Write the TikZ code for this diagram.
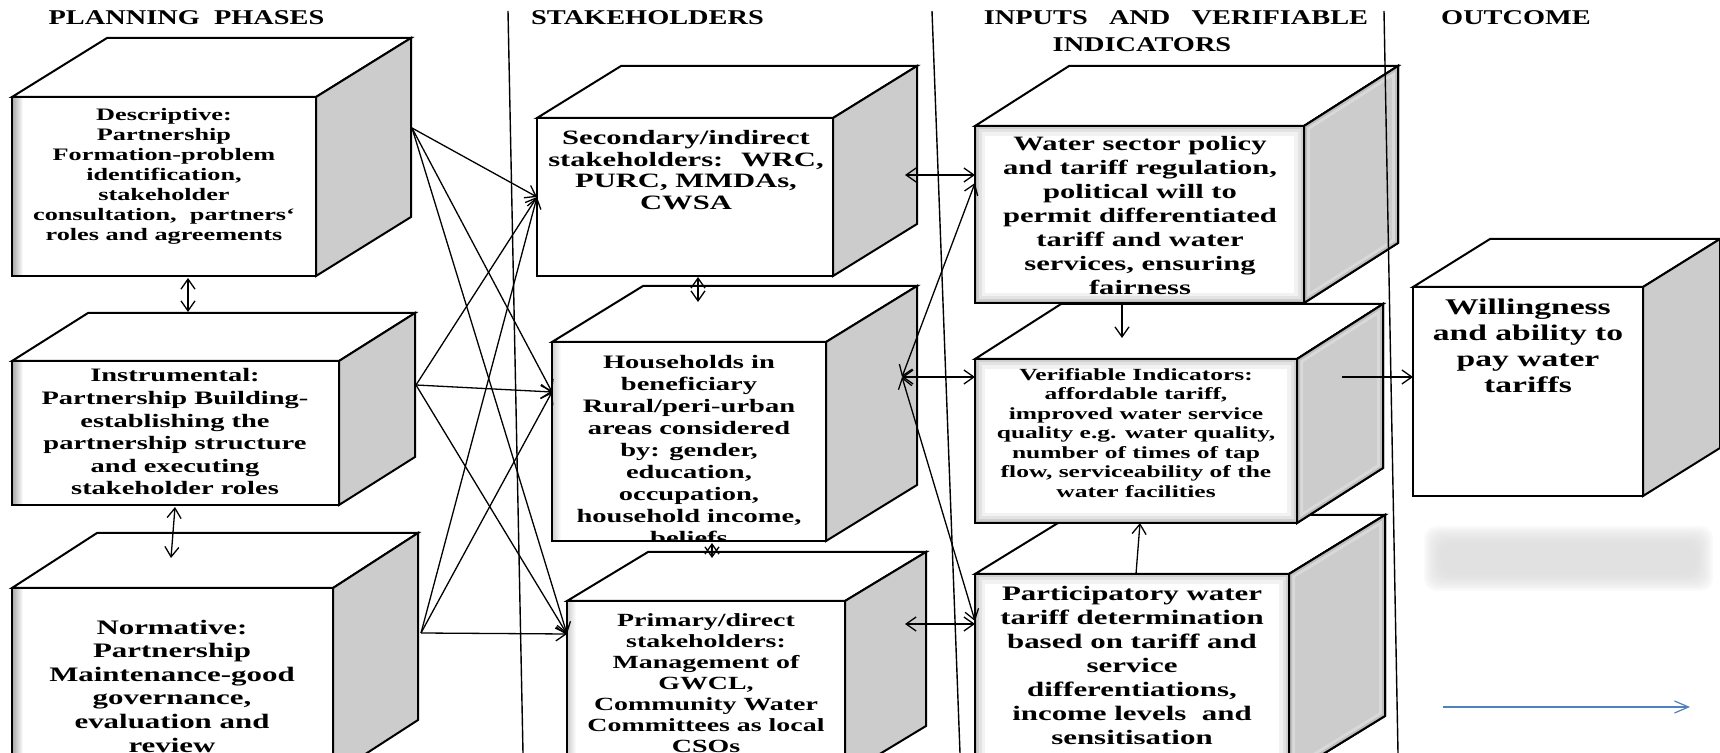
\documentclass[tikz,border=0pt]{standalone}
\usepackage{fontspec}
\setmainfont{Liberation Serif}[FakeStretch=1.5]
\newfontfamily\hdrfont{Liberation Serif}[FakeStretch=1.35]
\usetikzlibrary{arrows.meta,fit}
\definecolor{sidegray}{RGB}{204,204,204}
\definecolor{blueline}{RGB}{79,129,189}
\tikzset{
  boxline/.style={draw=black, line width=1pt, line join=miter},
  txt/.style 2 args={align=center, inner sep=0pt, font=\fontsize{#1}{#2}\selectfont\bfseries},
  hdr/.style={inner sep=0pt, anchor=base, font=\hdrfont\fontsize{10.5}{14}\selectfont\bfseries},
  conn/.style={line width=0.65pt, -{Straight Barb[length=5pt,width=7pt]}},
  dconn/.style={line width=0.65pt, {Straight Barb[length=5pt,width=7pt]}-{Straight Barb[length=5pt,width=7pt]}},
  sepline/.style={line width=0.7pt},
}
% #1 name, #2 x1, #3 y1, #4 x2, #5 y2, #6 dx, #7 dy, #8 shading type
\newcommand\drawcube[8]{%
  \filldraw[boxline, fill=white] (#2,#3) -- ({#2+#6},{#3-#7}) -- ({#4+#6},{#3-#7}) -- (#4,#3) -- cycle;
  \filldraw[boxline, fill=sidegray] (#4,#3) -- ({#4+#6},{#3-#7}) -- ({#4+#6},{#5-#7}) -- (#4,#5) -- cycle;
  \ifnum#8=3
    \begin{scope}
      \clip (#4,#3) -- ({#4+#6},{#3-#7}) -- ({#4+#6},{#5-#7}) -- (#4,#5) -- cycle;
      \draw[gray!30, line width=6pt] (#4,#3) -- ({#4+#6},{#3-#7}) -- ({#4+#6},{#5-#7}) -- (#4,#5) -- cycle;
      \draw[gray!50, line width=3pt] (#4,#3) -- ({#4+#6},{#3-#7}) -- ({#4+#6},{#5-#7}) -- (#4,#5) -- cycle;
    \end{scope}
    \draw[boxline] (#4,#3) -- ({#4+#6},{#3-#7}) -- ({#4+#6},{#5-#7}) -- (#4,#5) -- cycle;
  \fi
  \node[fit={(#2,#3) (#4,#5)}, inner sep=0pt, fill=white] (#1) {};
  \ifnum#8=1 \shade[left color=gray!70, right color=white] (#2,#3) rectangle ({#2+11},#5); \fi
  \ifnum#8=2 \shade[left color=gray!40, right color=white] (#2,#3) rectangle ({#2+9},#5); \fi
  \ifnum#8=3
    \begin{scope}
      \clip (#2,#3) rectangle (#4,#5);
      \draw[gray!10, line width=10pt] (#2,#3) rectangle (#4,#5);
      \draw[gray!22, line width=6.5pt] (#2,#3) rectangle (#4,#5);
      \draw[gray!38, line width=3.5pt] (#2,#3) rectangle (#4,#5);
      \draw[gray!55, line width=1.5pt] (#2,#3) rectangle (#4,#5);
    \end{scope}
  \fi
  \draw[boxline] (#1.north west) rectangle (#1.south east);
}
\begin{document}
\begin{tikzpicture}[x=0.5pt,y=-0.5pt]
\useasboundingbox (0,0) rectangle (1720,753);
\fill[white] (0,0) rectangle (1720,753);
\clip (0,0) rectangle (1720,753);

% headers
\node[hdr] (h1) at (186.5,25) {PLANNING\ \ PHASES};
\node[hdr] (h2) at (647.5,25) {STAKEHOLDERS};
\node[hdr] (h3) at (1176,25) {INPUTS\ \ \ AND\ \ \ VERIFIABLE};
\node[hdr] (h3b) at (1142,52) {INDICATORS};
\node[hdr] (h4) at (1516,25) {OUTCOME};

% boxes
\drawcube{b1}{12}{97}{316}{276}{95}{59}{1}
\drawcube{b2}{12}{361}{339}{505}{76}{48}{1}
\drawcube{b3}{12}{588}{333}{775}{85}{55}{1}
\drawcube{b4}{537}{118}{833}{276}{84}{52}{0}
\drawcube{b5}{552}{342}{826}{541}{91}{56}{2}
\drawcube{b6}{567}{601}{845}{775}{81}{49}{2}
\drawcube{b7}{975}{126}{1304}{303}{94}{60}{3}
\drawcube{b9}{975}{574}{1289}{775}{96}{59}{3}
\drawcube{b8}{975}{359}{1297}{523}{86}{55}{3}
\drawcube{b10}{1413}{287}{1643}{496}{77}{48}{0}

% texts
\begin{scope}\clip (b1.north west) rectangle (b1.south east);
\node[txt={8.75}{10}] (b1t) at (164,176) {Descriptive:\\Partnership\\Formation-problem\\identification,\\stakeholder\\consultation,~ partners‘\\roles and agreements};
\end{scope}
\begin{scope}\clip (b2.north west) rectangle (b2.south east);
\node[txt={9.5}{11.3}] (b2t) at (175,432) {Instrumental:\\Partnership Building-\\establishing the\\partnership structure\\and executing\\stakeholder roles};
\end{scope}
\begin{scope}\clip (b3.north west) rectangle (b3.south east);
\node[txt={10.3}{11.8}] (b3t) at (172,686) {Normative:\\Partnership\\Maintenance-good\\governance,\\evaluation and\\review};
\end{scope}
\begin{scope}\clip (b4.north west) rectangle (b4.south east);
\node[txt={10.2}{10.8}] (b4t) at (686,170) {Secondary/indirect\\stakeholders:~ WRC,\\PURC, MMDAs,\\CWSA};
\end{scope}
\begin{scope}\clip (b5.north west) rectangle (b5.south east);
\node[txt={9.5}{11}] (b5t) at (689,450) {Households in\\beneficiary\\Rural/peri-urban\\areas considered\\by: gender,\\education,\\occupation,\\household income,\\beliefs};
\end{scope}
\begin{scope}\clip (b6.north west) rectangle (b6.south east);
\node[txt={9.3}{10.5}] (b6t) at (706,683) {Primary/direct\\stakeholders:\\Management of\\GWCL,\\Community Water\\Committees as local\\CSOs};
\end{scope}
\begin{scope}\clip (b7.north west) rectangle (b7.south east);
\node[txt={10.2}{12}] (b7t) at (1140,216) {Water sector policy\\and tariff regulation,\\political will to\\permit differentiated\\tariff and water\\services, ensuring\\fairness};
\end{scope}
\begin{scope}\clip (b8.north west) rectangle (b8.south east);
\node[txt={8.5}{9.75}] (b8t) at (1136,433) {Verifiable Indicators:\\affordable tariff,\\improved water service\\quality e.g. water quality,\\number of times of tap\\flow, serviceability of the\\water facilities};
\end{scope}
\begin{scope}\clip (b9.north west) rectangle (b9.south east);
\node[txt={10.3}{12}] (b9t) at (1132,665) {Participatory water\\tariff determination\\based on tariff and\\service\\differentiations,\\income levels~ and\\sensitisation};
\end{scope}
\begin{scope}\clip (b10.north west) rectangle (b10.south east);
\node[txt={11.2}{13}] (b10t) at (1528,346) {Willingness\\and ability to\\pay water\\tariffs};
\end{scope}

% blurred grey patch
\foreach \i in {0,...,11}
  \fill[gray!27, opacity=0.12, rounded corners=6pt] ({1424+1.6*\i},{526+1.6*\i}) rectangle ({1713-1.6*\i},{591-1.6*\i});

% column separators
\coordinate (l1a) at (508,11); \coordinate (l1b) at (523,753);
\coordinate (l2a) at (932,11); \coordinate (l2b) at (960,753);
\coordinate (l3a) at (1384,11); \coordinate (l3b) at (1398,753);
\draw[sepline] (l1a) -- (l1b);
\draw[sepline] (l2a) -- (l2b);
\draw[sepline] (l3a) -- (l3b);

% connector end points
\coordinate (s1) at (412,128);
\coordinate (s2) at (416,385);
\coordinate (s3) at (421,633);
\coordinate (t4) at (537,197);
\coordinate (t5) at (552,392);
\coordinate (t6) at (567,634);
\coordinate (a12a) at (188,278); \coordinate (a12b) at (188,312);
\coordinate (a23a) at (175,507); \coordinate (a23b) at (171,558);
\coordinate (a45a) at (698,277); \coordinate (a45b) at (698,302);
\coordinate (a56a) at (712,543); \coordinate (a56b) at (712,558);
\coordinate (p4) at (905,175); \coordinate (q7) at (975,175);
\coordinate (h5) at (902,377);
\coordinate (q7b) at (975,183);
\coordinate (q8) at (975,377);
\coordinate (q9b) at (975,621);
\coordinate (p6) at (905,624); \coordinate (q9) at (975,624);
\coordinate (v7) at (1122,303); \coordinate (v8t) at (1122,338);
\coordinate (v9) at (1136,574); \coordinate (v8b) at (1140,523);
\coordinate (o8) at (1342,377); \coordinate (o10) at (1413,377);
\coordinate (bl1) at (1443,707); \coordinate (bl2) at (1690,707);

% planning phases -> stakeholders
\foreach \s in {s1,s2,s3}
  \foreach \t in {t4,t5,t6}
    \draw[conn] (\s) -- (\t);

% vertical links
\draw[dconn] (a12a) -- (a12b);
\draw[dconn] (a23a) -- (a23b);
\draw[dconn] (a45a) -- (a45b);
\draw[dconn] (a56a) -- (a56b);

% stakeholders <-> inputs
\draw[dconn] (p4) -- (q7);
\draw[dconn] (h5) -- (q7b);
\draw[dconn] (h5) -- (q8);
\draw[dconn] (h5) -- (q9b);
\draw[dconn] (p6) -- (q9);

% inputs
\draw[conn] (v7) -- (v8t);
\draw[conn] (v9) -- (v8b);
\draw[conn] (o8) -- (o10);

% legend arrow
\draw[line width=0.6pt, draw=blueline, -{Straight Barb[length=7pt,width=6pt]}] (bl1) -- (bl2);
\end{tikzpicture}
\end{document}
